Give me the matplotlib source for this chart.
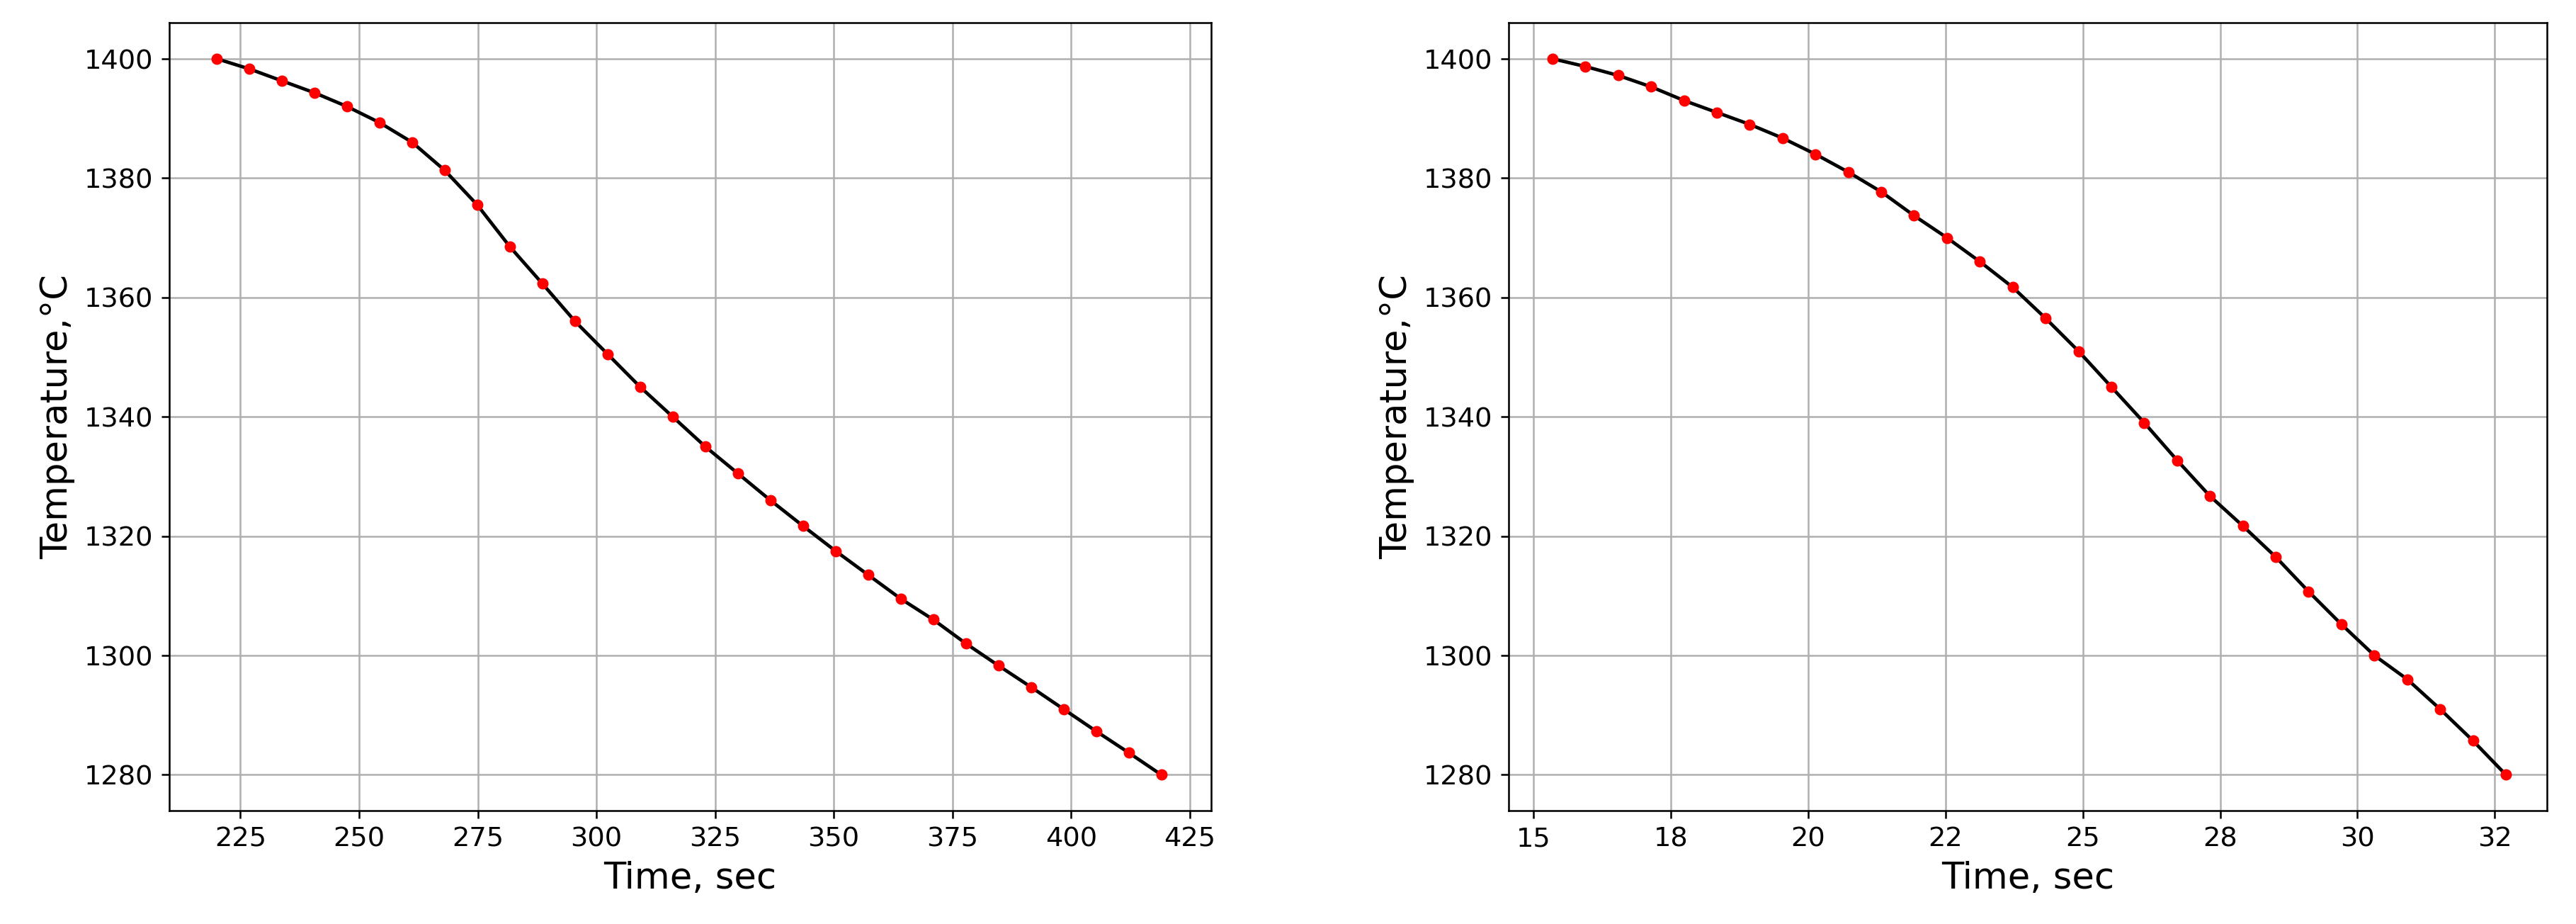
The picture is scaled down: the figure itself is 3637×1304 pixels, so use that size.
import numpy as np
import matplotlib.pyplot as plt
from matplotlib.ticker import FormatStrFormatter

# left panel data
t1 = np.linspace(220, 419, 30)
T1 = [1400, 1398.3, 1396.3, 1394.3, 1392, 1389.3, 1386, 1381.3, 1375.5, 1368.5,
      1362.3, 1356, 1350.5, 1345, 1340, 1335, 1330.5, 1326, 1321.7, 1317.5,
      1313.5, 1309.5, 1306, 1302, 1298.3, 1294.7, 1291, 1287.3, 1283.7, 1280]

# right panel data
t2 = np.linspace(15.35, 32.7, 30)
T2 = [1400, 1398.7, 1397.2, 1395.3, 1393, 1391, 1389, 1386.7, 1384, 1381,
      1377.7, 1373.7, 1370, 1366, 1361.7, 1356.5, 1351, 1345, 1339, 1332.7,
      1326.7, 1321.7, 1316.5, 1310.7, 1305.2, 1300, 1296, 1291, 1285.7, 1280]

fig = plt.figure(figsize=(15.817, 5.67), dpi=230)
ax1 = fig.add_axes([103/1568, 1-493/562, 634/1568, 479/562])
ax2 = fig.add_axes([918/1568, 1-493/562, 632/1568, 479/562])

for ax, t, T in [(ax1, t1, T1), (ax2, t2, T2)]:
    ax.plot(t, T, color="black", zorder=2)
    ax.plot(t, T, "o", color="red", markersize=4, zorder=3)
    ax.grid(True)
    ax.set_xlabel("Time, sec", fontsize=16)
    ax.set_ylabel("Temperature,\u00b0C", fontsize=16)
    ax.tick_params(labelsize=12)
    ax.set_ylim(1274, 1406)
    ax.set_yticks(np.arange(1280, 1401, 20))

ax1.set_xlim(210, 429.5)
ax2.set_xlim(14.55, 33.45)
ax2.set_xticks(np.arange(15, 33, 2.5))
ax2.xaxis.set_major_formatter(FormatStrFormatter("%.0f"))

plt.savefig("out.png")
